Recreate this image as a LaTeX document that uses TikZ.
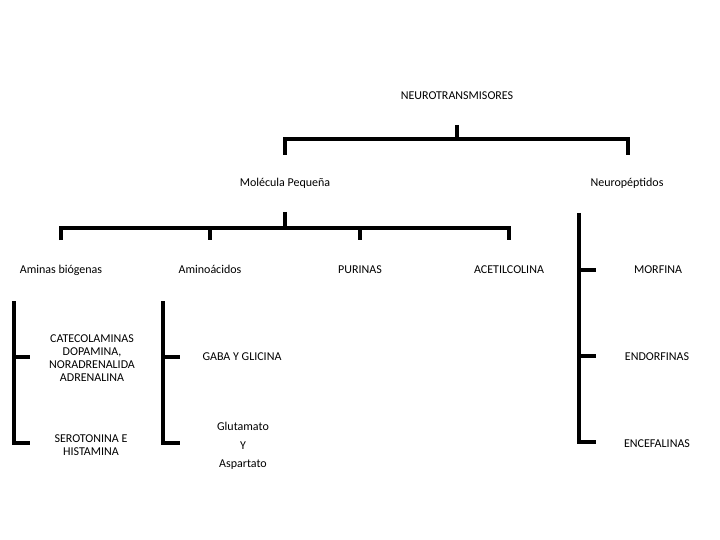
\documentclass[tikz,border=0pt]{standalone}
\usepackage{fontspec}
\setmainfont{Carlito}
\begin{document}
\begin{tikzpicture}[x=1pt,y=-1pt,
  lbl/.style={font=\fontsize{12}{13}\selectfont, inner sep=0pt, align=center},
  one/.style={lbl, text height=7.6pt, text depth=0pt},
  brk/.style={line width=3.8pt, line cap=butt, line join=miter}]
\useasboundingbox (0,0) rectangle (720,540);
% labels
\node[one] (nt) at (457,96) {NEUROTRANSMISORES};
\node[one] (mp) at (285,183) {Molécula Pequeña};
\node[one] (np) at (627,183) {Neuropéptidos};
\node[one] (ab) at (61,270) {Aminas biógenas};
\node[one] (aa) at (210,270) {Aminoácidos};
\node[one] (pu) at (360,270) {PURINAS};
\node[one] (ac) at (509,270) {ACETILCOLINA};
\node[one] (mo) at (658,270) {MORFINA};
\node[one] (en) at (657,357) {ENDORFINAS};
\node[one] (ec) at (657,444) {ENCEFALINAS};
\node[lbl] (ca) at (92,358) {CATECOLAMINAS\\DOPAMINA,\\NORADRENALIDA\\ADRENALINA};
\node[lbl] (se) at (91,445) {SEROTONINA E\\HISTAMINA};
\node[one] (gg) at (242,357) {GABA Y GLICINA};
\node[one] (gl1) at (243,427) {Glutamato};
\node[one] (gl2) at (243,445.5) {Y};
\node[one] (gl3) at (243,464) {Aspartato};
% top bracket
\coordinate (t0) at (457,125);
\coordinate (t1) at (457,139);
\draw[brk] (t0) -- (t1);
\draw[brk] (285,155) -- (285,139) -- (628,139) -- (628,155);
% second bracket
\draw[brk] (285,212) -- (285,228);
\draw[brk] (61,240) -- (61,228) -- (509,228) -- (509,240);
\draw[brk] (210,228) -- (210,240);
\draw[brk] (360,228) -- (360,240);
% neuropeptidos bracket
\draw[brk] (579,213) -- (579,441.75) -- (596,441.75);
\draw[brk] (579,270) -- (596,270);
\draw[brk] (579,356) -- (596,356);
% aminas bracket
\draw[brk] (14,301) -- (14,443.25) -- (30,443.25);
\draw[brk] (14,357) -- (30,357);
% aminoacidos bracket
\draw[brk] (163,301) -- (163,443.25) -- (180,443.25);
\draw[brk] (163,357) -- (180,357);
\end{tikzpicture}
\end{document}
